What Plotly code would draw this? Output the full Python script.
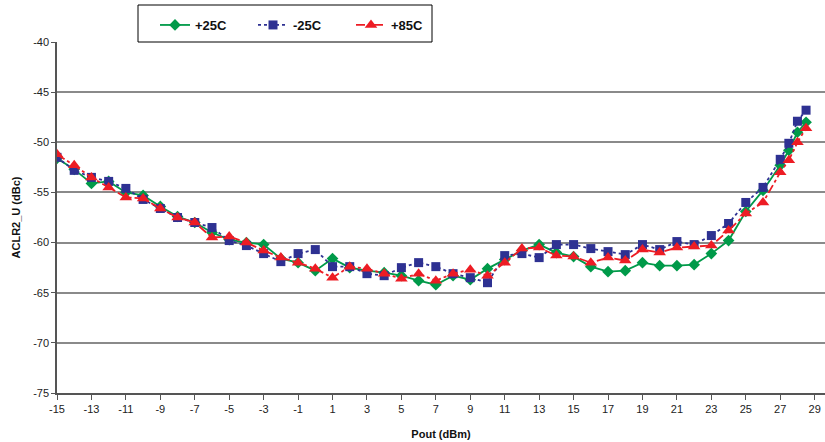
import plotly.graph_objects as go

pout = [-15, -14, -13, -12, -11, -10, -9, -8, -7, -6, -5, -4, -3, -2, -1, 0, 1, 2, 3, 4,
        5, 6, 7, 8, 9, 10, 11, 12, 13, 14, 15, 16, 17, 18, 19, 20, 21, 22, 23, 24,
        25, 26, 27, 27.5, 28, 28.5]

t25 = [-51.6, -52.7, -54.1, -53.9, -55.0, -55.3, -56.4, -57.4, -58.0, -59.0, -59.7, -60.0,
       -60.2, -61.6, -62.0, -62.8, -61.6, -62.5, -62.8, -63.0, -63.3, -63.8, -64.2, -63.3,
       -63.7, -62.6, -61.7, -60.8, -60.2, -61.0, -61.4, -62.4, -62.9, -62.8, -62.0, -62.3,
       -62.3, -62.2, -61.1, -59.8, -56.9, -54.8, -52.3, -50.8, -49.0, -48.0]

tm25 = [-51.5, -52.8, -53.5, -53.9, -54.6, -55.7, -56.6, -57.5, -58.0, -58.5, -59.8, -60.3,
        -61.1, -61.9, -61.1, -60.7, -62.4, -62.4, -63.1, -63.3, -62.5, -62.0, -62.4, -63.1,
        -63.5, -64.0, -61.3, -61.1, -61.5, -60.2, -60.2, -60.6, -60.9, -61.2, -60.2, -60.7,
        -59.9, -60.2, -59.3, -58.1, -56.0, -54.5, -51.7, -50.1, -47.9, -46.8]

t85 = [-51.2, -52.3, -53.5, -54.5, -55.5, -55.6, -56.6, -57.5, -58.0, -59.5, -59.4, -60.0,
       -60.8, -61.5, -62.0, -62.6, -63.5, -62.4, -62.6, -63.1, -63.6, -63.1, -63.8, -63.1,
       -62.7, -63.3, -62.0, -60.6, -60.5, -61.3, -61.4, -62.0, -61.5, -61.8, -60.7, -61.0,
       -60.5, -60.4, -60.3, -58.8, -57.1, -56.0, -53.0, -51.8, -50.0, -48.6]

x_ticks = list(range(-15, 30, 2))
y_ticks = [-40, -45, -50, -55, -60, -65, -70, -75]

FONT = "Liberation Sans, Arial, sans-serif"

fig = go.Figure()
fig.add_trace(go.Scatter(
    x=pout, y=t25, name="+25C", mode="lines+markers",
    line=dict(color="#009A49", width=1.8, dash="solid"),
    marker=dict(symbol="diamond", size=9, color="#009A49")))
fig.add_trace(go.Scatter(
    x=pout, y=tm25, name="-25C", mode="lines+markers",
    line=dict(color="#2E3192", width=1.8, dash="dot"),
    marker=dict(symbol="square", size=9, color="#2E3192")))
fig.add_trace(go.Scatter(
    x=pout, y=t85, name="+85C", mode="lines+markers",
    line=dict(color="#ED1C24", width=1.8, dash="dashdot"),
    marker=dict(symbol="triangle-up", size=11, color="#ED1C24")))

# legend frame (paper coords, plot area spans 57..825 px horizontally, 42..393 px vertically)
fig.add_shape(type="rect", xref="paper", yref="paper",
              x0=(138 - 57) / 768, x1=(432 - 57) / 768,
              y0=(393 - 42) / 351, y1=(393 - 5) / 351,
              line=dict(color="#000000", width=1), fillcolor="white", layer="above")

fig.update_layout(
    width=825, height=442,
    margin=dict(l=57, r=0, t=42, b=49),
    paper_bgcolor="white", plot_bgcolor="white",
    font=dict(family=FONT, size=11, color="#222222"),
    legend=dict(
        orientation="h", x=(155 - 57) / 768, y=(393 - 25) / 351,
        xanchor="left", yanchor="middle",
        bgcolor="rgba(0,0,0,0)", borderwidth=0,
        font=dict(family=FONT, size=13, color="#111111", weight="bold"),
        entrywidth=53, entrywidthmode="pixels", itemwidth=30,
        tracegroupgap=0),
    xaxis=dict(
        range=[-15, 29.6], tickvals=x_ticks, ticktext=[str(v) for v in x_ticks],
        showgrid=False, zeroline=False,
        showline=True, linecolor="#555555", linewidth=1.5,
        ticks="outside", ticklen=5, tickcolor="#555555",
        tickfont=dict(family=FONT, size=11, color="#222222"),
        title=dict(text="Pout (dBm)", standoff=16,
                   font=dict(family=FONT, size=11, color="#111111", weight="bold"))),
    yaxis=dict(
        range=[-75, -40], tickvals=y_ticks, ticktext=[str(v) for v in y_ticks],
        showgrid=True, gridcolor="#8a8a8a", gridwidth=2, zeroline=False,
        showline=True, linecolor="#555555", linewidth=1.5,
        ticks="outside", ticklen=4, tickcolor="#555555",
        tickfont=dict(family=FONT, size=11, color="#222222"),
        title=dict(text="ACLR2_U (dBc)", standoff=10,
                   font=dict(family=FONT, size=11, color="#111111", weight="bold"))),
)

fig.write_html("out.html")
